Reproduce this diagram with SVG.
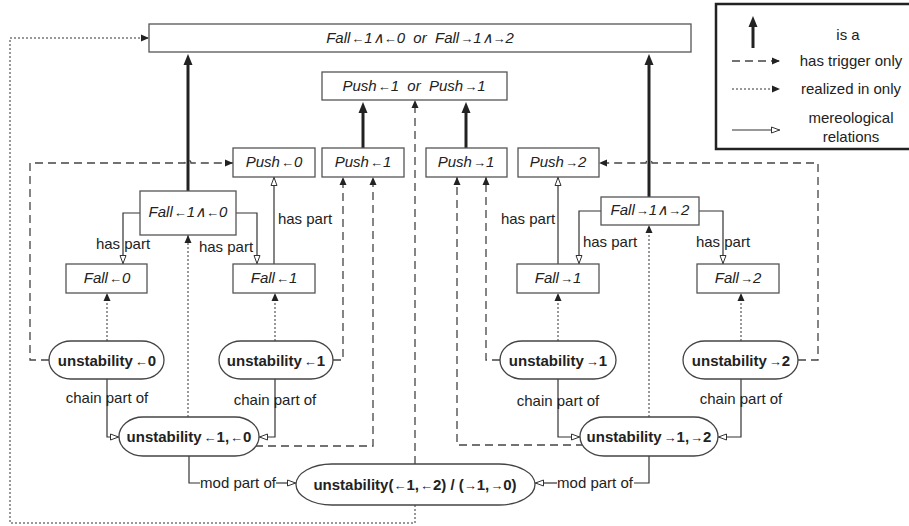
<svg xmlns="http://www.w3.org/2000/svg" width="909" height="526" viewBox="0 0 909 526">
<style>
text{font-family:"Liberation Sans",Arial,sans-serif;font-size:15px;fill:#222;text-anchor:middle}
.it{font-style:italic}
.b{font-weight:bold}
.ar{font-size:13px;font-style:normal;font-weight:normal}
.box{fill:#fff;stroke:#555;stroke-width:1.3}
.node{fill:#fff;stroke:#444;stroke-width:1.3}
.isa{fill:none;stroke:#222;stroke-width:3}
.trig{fill:none;stroke:#444;stroke-width:1.3;stroke-dasharray:8 5}
.real{fill:none;stroke:#333;stroke-width:1;stroke-dasharray:2 2}
.mer{fill:none;stroke:#333;stroke-width:1.2}
</style>
<defs>
<marker id="mIsa" markerUnits="userSpaceOnUse" markerWidth="12" markerHeight="10" refX="1" refY="4.5" orient="auto" overflow="visible"><path d="M0,0 L11,4.5 L0,9 z" fill="#222"/></marker>
<marker id="mFill" markerUnits="userSpaceOnUse" markerWidth="9" markerHeight="8" refX="8" refY="3.5" orient="auto" overflow="visible"><path d="M0,0 L8,3.5 L0,7 z" fill="#222"/></marker>
<marker id="mOpen" markerUnits="userSpaceOnUse" markerWidth="10" markerHeight="8" refX="8.5" refY="3.5" orient="auto" overflow="visible"><path d="M0,0.5 L8,3.5 L0,6.5 z" fill="#fff" stroke="#333" stroke-width="1"/></marker>
</defs>

<g id="connectors">
<!-- is a -->
<path class="isa" d="M188,191 V64" marker-end="url(#mIsa)"/>
<path class="isa" d="M649,197 V64" marker-end="url(#mIsa)"/>
<path class="isa" d="M363,148 V112" marker-end="url(#mIsa)"/>
<path class="isa" d="M466,148 V112" marker-end="url(#mIsa)"/>
<!-- has trigger only -->
<path class="trig" d="M49,360 H30 V163 H185 A3,3 0 0 1 191,163 H233" marker-end="url(#mFill)"/>
<path class="trig" d="M798,360 H818 V163 H652 A3,3 0 0 0 646,163 H599" marker-end="url(#mFill)"/>
<path class="trig" d="M333,360 H343 V177" marker-end="url(#mFill)"/>
<path class="trig" d="M255,446 H373 V177" marker-end="url(#mFill)"/>
<path class="trig" d="M500,360 H486 V177" marker-end="url(#mFill)"/>
<path class="trig" d="M584,445 H457 V177" marker-end="url(#mFill)"/>
<path class="trig" d="M415,464 V100" marker-end="url(#mFill)"/>
<!-- realized in only -->
<path class="real" d="M415,505 V523 H10 V38 H149" marker-end="url(#mFill)"/>
<path class="real" d="M188,417 V235" marker-end="url(#mFill)"/>
<path class="real" d="M649,417 V225" marker-end="url(#mFill)"/>
<path class="real" d="M107,341 V293" marker-end="url(#mFill)"/>
<path class="real" d="M275,341 V293" marker-end="url(#mFill)"/>
<path class="real" d="M558,341 V293" marker-end="url(#mFill)"/>
<path class="real" d="M741,341 V293" marker-end="url(#mFill)"/>
<!-- mereological -->
<path class="mer" d="M140,213 H123 V264" marker-end="url(#mOpen)"/>
<path class="mer" d="M236,213 H257 V264" marker-end="url(#mOpen)"/>
<path class="mer" d="M274,264 V177" marker-end="url(#mOpen)"/>
<path class="mer" d="M558,264 V177" marker-end="url(#mOpen)"/>
<path class="mer" d="M601,211 H579 V264" marker-end="url(#mOpen)"/>
<path class="mer" d="M699,211 H723 V264" marker-end="url(#mOpen)"/>
<path class="mer" d="M107,379 V437 H119" marker-end="url(#mOpen)"/>
<path class="mer" d="M275,379 V437 H259" marker-end="url(#mOpen)"/>
<path class="mer" d="M558,379 V437 H580" marker-end="url(#mOpen)"/>
<path class="mer" d="M741,379 V437 H718" marker-end="url(#mOpen)"/>
<path class="mer" d="M189,456 V483 H200"/>
<path class="mer" d="M276,483 H296" marker-end="url(#mOpen)"/>
<path class="mer" d="M649,456 V483 H634"/>
<path class="mer" d="M557,483 H535" marker-end="url(#mOpen)"/>
<!-- labels -->
<text x="123" y="249">has part</text>
<text x="226" y="252">has part</text>
<text x="305" y="224">has part</text>
<text x="528" y="224">has part</text>
<text x="610" y="247">has part</text>
<text x="723" y="247">has part</text>
<text x="107" y="403">chain part of</text>
<text x="275" y="405">chain part of</text>
<text x="558" y="406">chain part of</text>
<text x="741" y="404">chain part of</text>
<text x="238" y="488">mod part of</text>
<text x="595" y="488">mod part of</text>
</g>

<g id="n-top">
<rect class="box" x="149" y="24" width="542" height="28"/>
<text class="it" x="420" y="43">Fall<tspan class="ar" dx="1">←</tspan>1∧<tspan class="ar">←</tspan>0&#160;&#160;or&#160;&#160;Fall<tspan class="ar" dx="1">→</tspan>1∧<tspan class="ar">→</tspan>2</text>
</g>
<g id="n-push-or">
<rect class="box" x="322" y="72" width="185" height="28"/>
<text class="it" x="414" y="91">Push<tspan class="ar" dx="1">←</tspan>1&#160;&#160;or&#160;&#160;Push<tspan class="ar" dx="1">→</tspan>1</text>
</g>
<g id="n-push-l0">
<rect class="box" x="233" y="148" width="82" height="29"/>
<text class="it" x="274" y="167">Push<tspan class="ar" dx="1">←</tspan>0</text>
</g>
<g id="n-push-l1">
<rect class="box" x="322" y="148" width="82" height="29"/>
<text class="it" x="363" y="167">Push<tspan class="ar" dx="1">←</tspan>1</text>
</g>
<g id="n-push-r1">
<rect class="box" x="426" y="148" width="81" height="29"/>
<text class="it" x="466" y="167">Push<tspan class="ar" dx="1">→</tspan>1</text>
</g>
<g id="n-push-r2">
<rect class="box" x="518" y="148" width="81" height="29"/>
<text class="it" x="558" y="167">Push<tspan class="ar" dx="1">→</tspan>2</text>
</g>
<g id="n-fall-l10">
<rect class="box" x="140" y="191" width="96" height="44"/>
<text class="it" x="188" y="217">Fall<tspan class="ar" dx="1">←</tspan>1∧<tspan class="ar">←</tspan>0</text>
</g>
<g id="n-fall-r12">
<rect class="box" x="601" y="197" width="98" height="28"/>
<text class="it" x="650" y="215">Fall<tspan class="ar" dx="1">→</tspan>1∧<tspan class="ar">→</tspan>2</text>
</g>
<g id="n-fall-l0">
<rect class="box" x="66" y="264" width="81" height="29"/>
<text class="it" x="107" y="283">Fall<tspan class="ar" dx="1">←</tspan>0</text>
</g>
<g id="n-fall-l1">
<rect class="box" x="233" y="264" width="82" height="29"/>
<text class="it" x="274" y="283">Fall<tspan class="ar" dx="1">←</tspan>1</text>
</g>
<g id="n-fall-r1">
<rect class="box" x="517" y="264" width="82" height="29"/>
<text class="it" x="558" y="283">Fall<tspan class="ar" dx="1">→</tspan>1</text>
</g>
<g id="n-fall-r2">
<rect class="box" x="697" y="264" width="82" height="29"/>
<text class="it" x="738" y="283">Fall<tspan class="ar" dx="1">→</tspan>2</text>
</g>
<g id="n-un-l0">
<rect class="node" x="49" y="341" width="115" height="38" rx="22" ry="19"/>
<text class="b" x="107" y="366">unstability<tspan class="ar" dx="2">←</tspan>0</text>
</g>
<g id="n-un-l1">
<rect class="node" x="219" y="341" width="114" height="38" rx="22" ry="19"/>
<text class="b" x="276" y="366">unstability<tspan class="ar" dx="2">←</tspan>1</text>
</g>
<g id="n-un-r1">
<rect class="node" x="500" y="341" width="116" height="38" rx="22" ry="19"/>
<text class="b" x="558" y="366">unstability<tspan class="ar" dx="2">→</tspan>1</text>
</g>
<g id="n-un-r2">
<rect class="node" x="683" y="341" width="115" height="38" rx="22" ry="19"/>
<text class="b" x="741" y="366">unstability<tspan class="ar" dx="2">→</tspan>2</text>
</g>
<g id="n-un-l10">
<rect class="node" x="119" y="417" width="140" height="39" rx="24" ry="19.5"/>
<text class="b" x="189" y="442">unstability<tspan class="ar" dx="2">←</tspan>1,<tspan class="ar" dx="1">←</tspan>0</text>
</g>
<g id="n-un-r12">
<rect class="node" x="580" y="417" width="138" height="39" rx="24" ry="19.5"/>
<text class="b" x="649" y="442">unstability<tspan class="ar" dx="2">→</tspan>1,<tspan class="ar" dx="1">→</tspan>2</text>
</g>
<g id="n-un-mod">
<rect class="node" x="296" y="464" width="239" height="41" rx="36" ry="20.5"/>
<text class="b" x="415" y="490">unstability(<tspan class="ar">←</tspan>1,<tspan class="ar" dx="1">←</tspan>2) / (<tspan class="ar">→</tspan>1,<tspan class="ar" dx="1">→</tspan>0)</text>
</g>

<g id="legend">
<rect x="716" y="4" width="200" height="145" fill="#fff" stroke="#222" stroke-width="2.5"/>
<path class="isa" d="M753,48 V26" marker-end="url(#mIsa)"/>
<path class="trig" d="M732,61 H780" marker-end="url(#mFill)"/>
<path class="real" d="M732,89 H780" marker-end="url(#mFill)"/>
<path class="mer" d="M732,130 H780" marker-end="url(#mOpen)"/>
<text x="848" y="40">is a</text>
<text x="851" y="66">has trigger only</text>
<text x="851" y="94">realized in only</text>
<text x="851" y="123">mereological</text>
<text x="851" y="142">relations</text>
</g>
</svg>
